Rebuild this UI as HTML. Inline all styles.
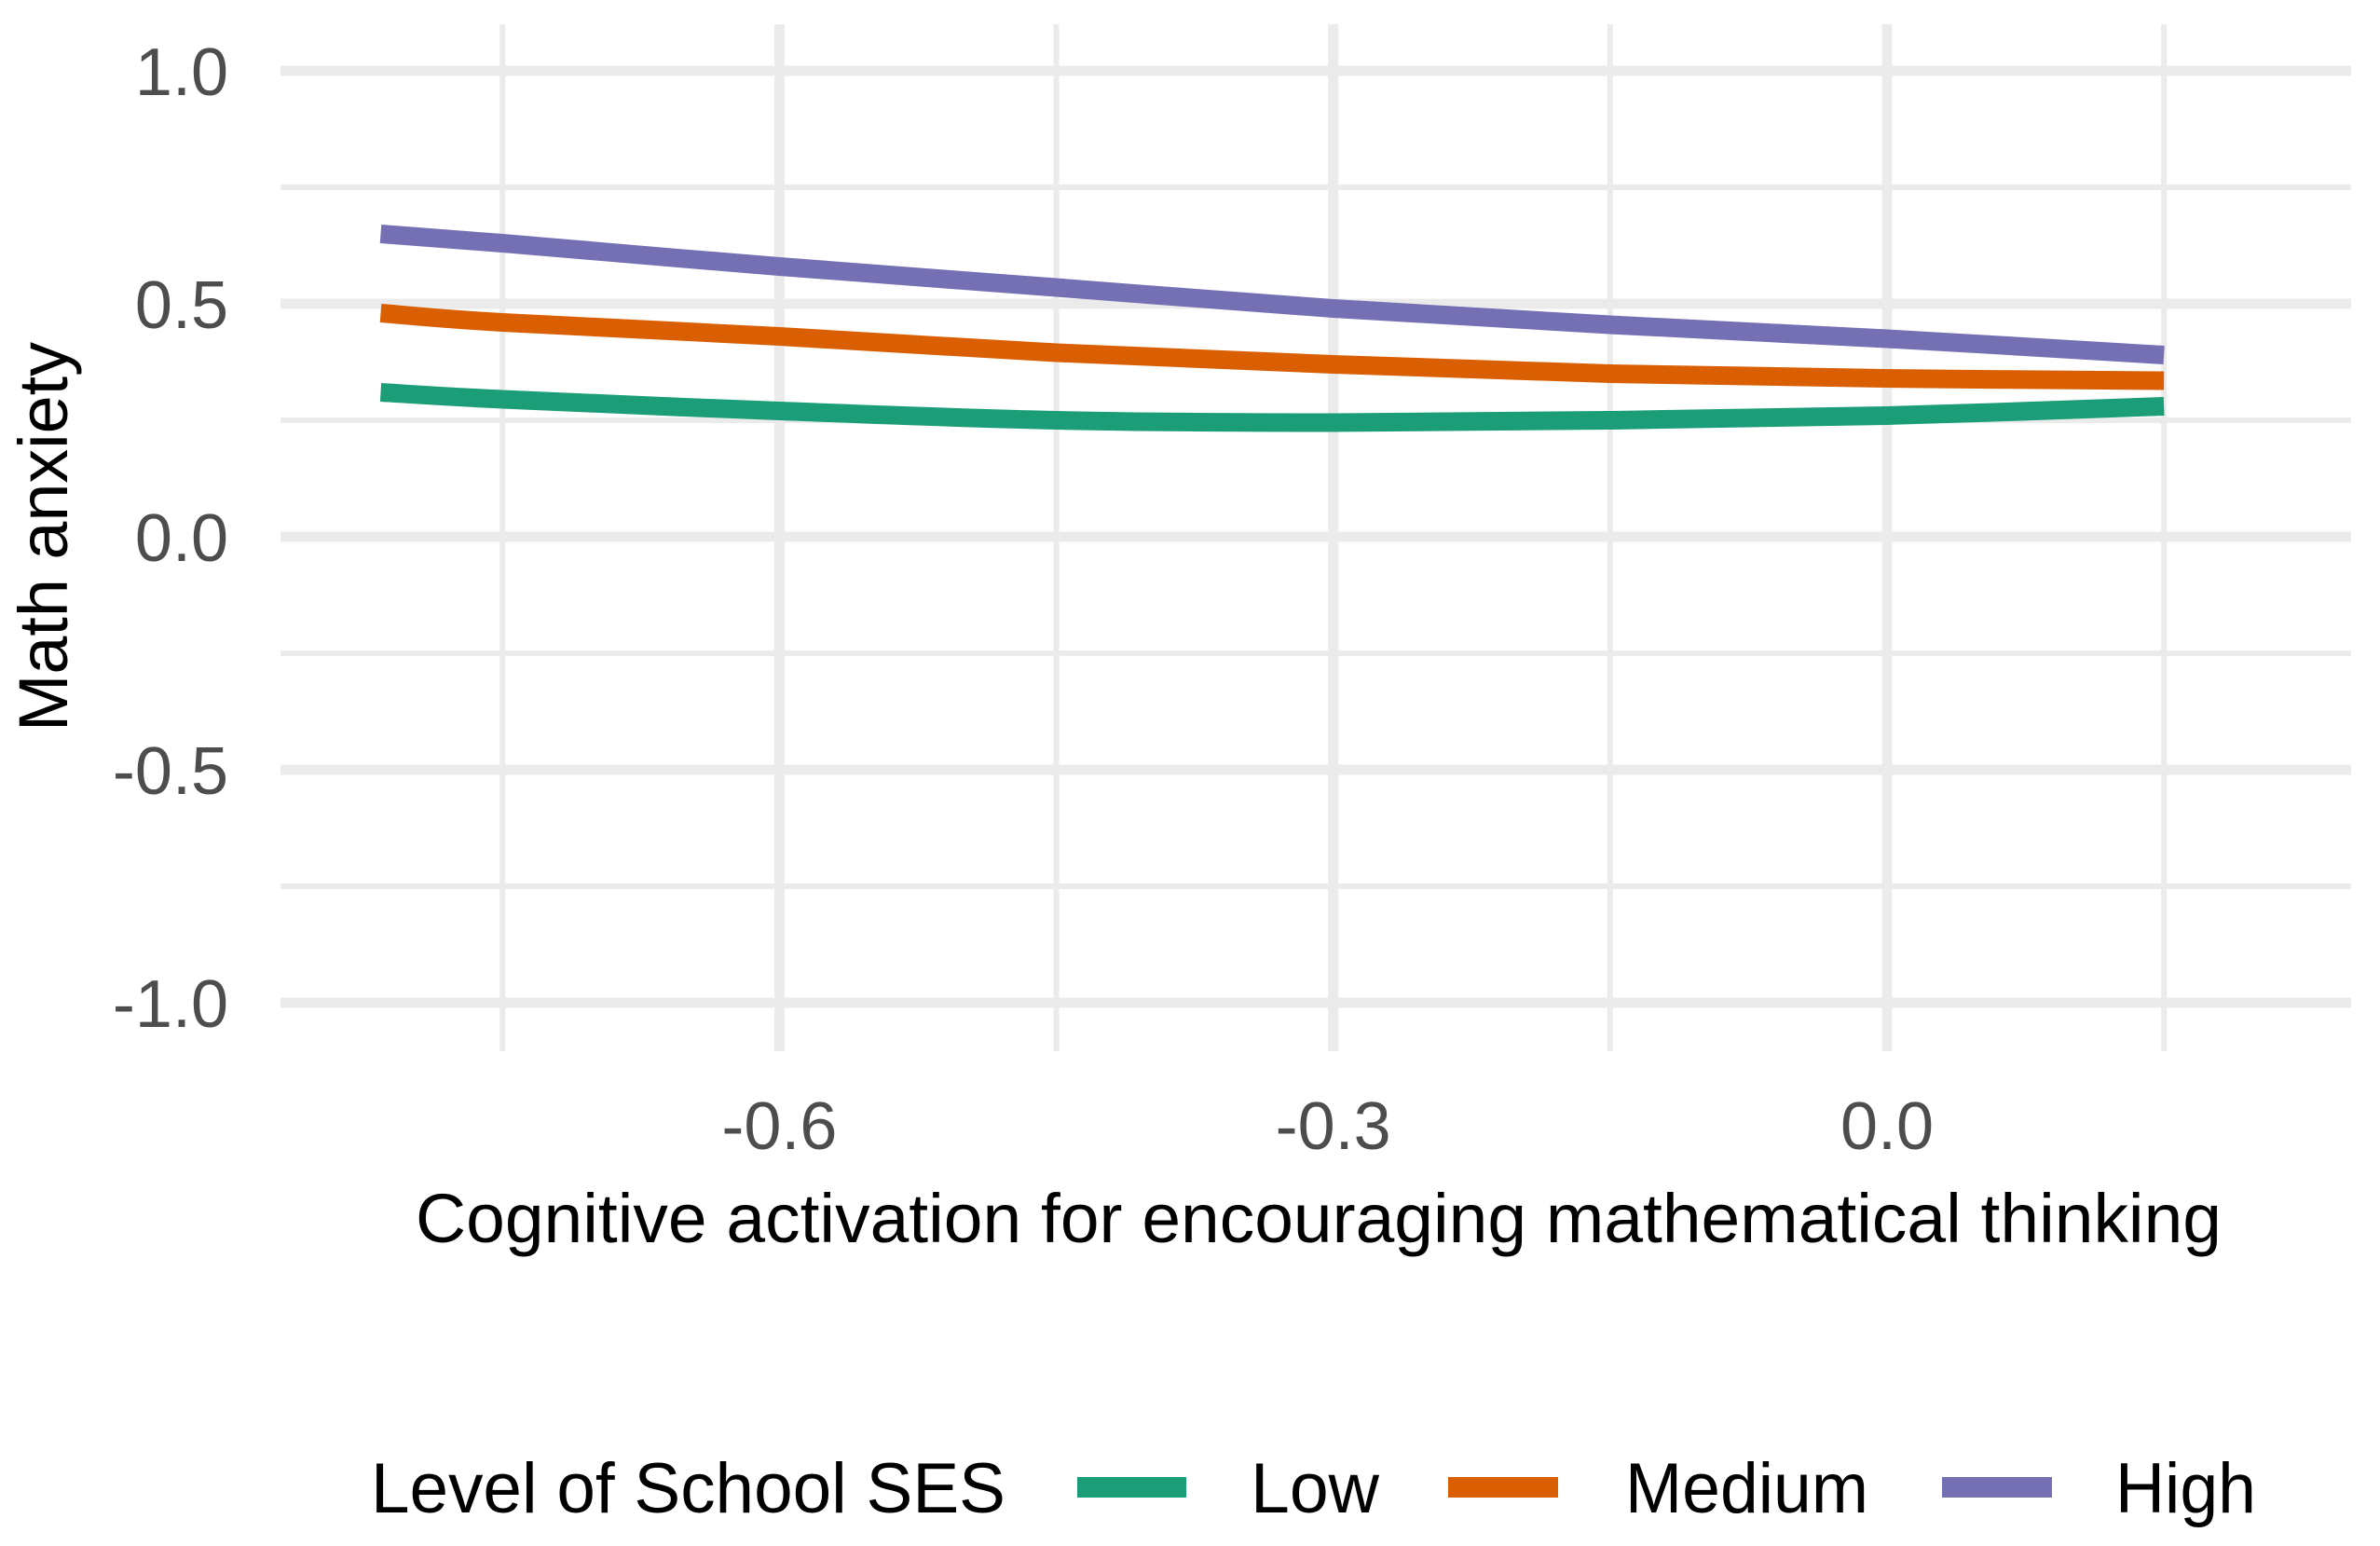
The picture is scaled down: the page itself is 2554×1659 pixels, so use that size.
<!DOCTYPE html>
<html><head><meta charset="utf-8"><style>
html,body{margin:0;padding:0;background:#fff;}
svg{display:block;font-family:"Liberation Sans",Arial,sans-serif;}
</style></head><body>
<svg id="chart" width="2554" height="1659" viewBox="0 0 2554 1659" xmlns="http://www.w3.org/2000/svg">
<rect x="0" y="0" width="2554" height="1659" fill="#fff"/>
<g id="grid"></g>
<g id="series"></g>
<g id="yticks"></g>
<g id="xticks"></g>
<text transform="translate(72,576) rotate(-90)" text-anchor="middle" font-size="74" fill="#000" textLength="418" lengthAdjust="spacingAndGlyphs">Math anxiety</text>
<text x="446" y="1333" font-size="74" fill="#000" textLength="1938" lengthAdjust="spacingAndGlyphs">Cognitive activation for encouraging mathematical thinking</text>
<g>
<text x="398" y="1623" font-size="76" fill="#000" textLength="681" lengthAdjust="spacingAndGlyphs">Level of School SES</text>
<g>
<rect x="1156" y="1585" width="117" height="22" fill="#1b9e77"/>
<text x="1342" y="1623" font-size="76" fill="#000" textLength="138" lengthAdjust="spacingAndGlyphs">Low</text>
</g>
<g>
<rect x="1554" y="1585" width="118" height="22" fill="#d95f02"/>
<text x="1744" y="1623" font-size="76" fill="#000" textLength="261" lengthAdjust="spacingAndGlyphs">Medium</text>
</g>
<g>
<rect x="2084" y="1585" width="118" height="22" fill="#7570b3"/>
<text x="2270" y="1623" font-size="76" fill="#000" textLength="151" lengthAdjust="spacingAndGlyphs">High</text>
</g>
</g>
</svg>
<script>
const xValues = [-0.816, -0.75, -0.6, -0.45, -0.3, -0.15, 0.0, 0.15];
const lowValues = [0.31, 0.295, 0.27, 0.25, 0.245, 0.25, 0.26, 0.28];
const mediumValues = [0.48, 0.46, 0.43, 0.395, 0.37, 0.35, 0.34, 0.335];
const highValues = [0.65, 0.63, 0.58, 0.535, 0.49, 0.455, 0.425, 0.39];
const xTickValues = [-0.6, -0.3, 0.0];
const xTickLabels = ["-0.6", "-0.3", "0.0"];
const xMinorValues = [-0.75, -0.45, -0.15, 0.15];
const yTickValues = [1.0, 0.5, 0.0, -0.5, -1.0];
const yTickLabels = ["1.0", "0.5", "0.0", "-0.5", "-1.0"];
const yMinorValues = [0.75, 0.25, -0.25, -0.75];

const NS = "http://www.w3.org/2000/svg";
const X0 = 2025, XS = 1981, Y0 = 576, YS = 500;
const PL = 301, PR = 2523, PT = 26, PB = 1128;
function sx(v){ return X0 + v * XS; }
function sy(v){ return Y0 - v * YS; }
function mk(tag, attrs, parent){
  const e = document.createElementNS(NS, tag);
  for (const k in attrs) e.setAttribute(k, attrs[k]);
  parent.appendChild(e);
  return e;
}
const grid = document.getElementById('grid');
yMinorValues.forEach(v => {
  const l = mk('line', {x1:PL, x2:PR, y1:sy(v), y2:sy(v), stroke:'#ebebeb', 'stroke-width':6}, grid);
  
  
});
xMinorValues.forEach(v => {
  const l = mk('line', {x1:sx(v), x2:sx(v), y1:PT, y2:PB, stroke:'#ebebeb', 'stroke-width':6}, grid);
  
  
});
yTickValues.forEach(v => {
  const l = mk('line', {x1:PL, x2:PR, y1:sy(v), y2:sy(v), stroke:'#ebebeb', 'stroke-width':11}, grid);
  
  
});
xTickValues.forEach(v => {
  const l = mk('line', {x1:sx(v), x2:sx(v), y1:PT, y2:PB, stroke:'#ebebeb', 'stroke-width':11}, grid);
  
  
});
const yt = document.getElementById('yticks');
yTickValues.forEach((v, i) => {
  const t = mk('text', {x:245, y:sy(v) + 26, 'text-anchor':'end', 'font-size':72, fill:'#4d4d4d'}, yt);
  t.textContent = yTickLabels[i];
  
  
});
const xt = document.getElementById('xticks');
xTickValues.forEach((v, i) => {
  const t = mk('text', {x:sx(v), y:1233, 'text-anchor':'middle', 'font-size':72, fill:'#4d4d4d'}, xt);
  t.textContent = xTickLabels[i];
  
  
});
function smoothPath(xs, ys){
  const p = xs.map((x, i) => [sx(x), sy(ys[i])]);
  let d = 'M' + p[0][0] + ',' + p[0][1];
  for (let i = 0; i < p.length - 1; i++){
    const p0 = p[Math.max(0, i-1)], p1 = p[i], p2 = p[i+1], p3 = p[Math.min(p.length-1, i+2)];
    const c1x = p1[0] + (p2[0]-p0[0])/6, c1y = p1[1] + (p2[1]-p0[1])/6;
    const c2x = p2[0] - (p3[0]-p1[0])/6, c2y = p2[1] - (p3[1]-p1[1])/6;
    d += ' C' + c1x + ',' + c1y + ' ' + c2x + ',' + c2y + ' ' + p2[0] + ',' + p2[1];
  }
  return d;
}
const sg = document.getElementById('series');
const lowLine = mk('path', {d:smoothPath(xValues, lowValues), fill:'none', stroke:'#1b9e77', 'stroke-width':20}, sg);


const medLine = mk('path', {d:smoothPath(xValues, mediumValues), fill:'none', stroke:'#d95f02', 'stroke-width':20}, sg);


const highLine = mk('path', {d:smoothPath(xValues, highValues), fill:'none', stroke:'#7570b3', 'stroke-width':20}, sg);


</script>
</body></html>
